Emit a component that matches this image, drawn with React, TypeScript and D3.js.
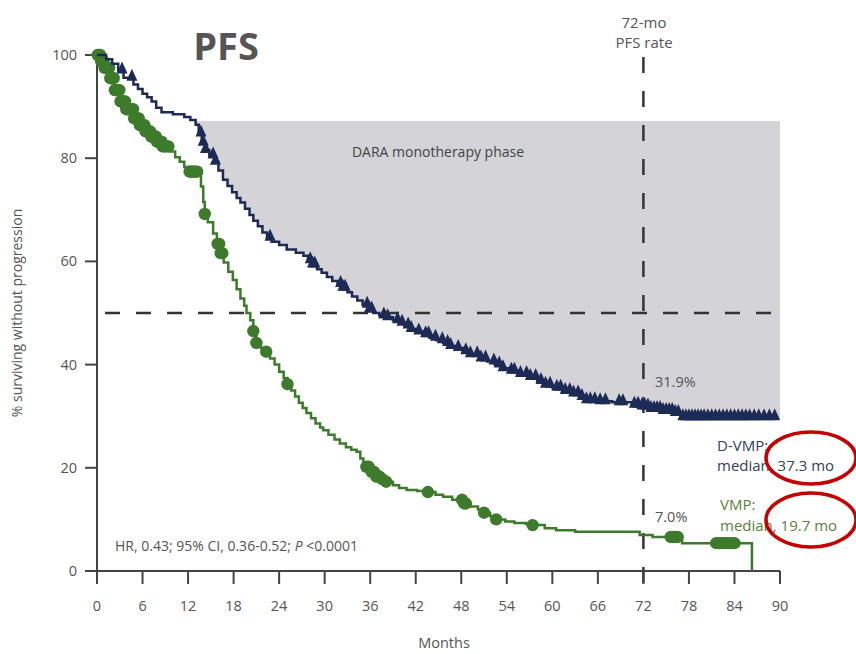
import React from 'react';
import * as d3 from 'd3';

const WIDTH = 856;
const HEIGHT = 654;

// Kaplan-Meier step points [month, % surviving]
const dvmpSteps: [number, number][] = [
  [0, 100], [1.2, 99.2], [2, 98.3], [2.8, 97], [3.5, 95.6], [4.8, 94.3], [5.4, 93.4], [6, 92.5],
  [6.6, 91.8], [7.2, 91], [7.8, 89.8], [8.5, 88.9], [10, 88.5], [11.5, 88], [12.3, 87.4], [13, 86.5],
  [13.4, 84.8], [13.8, 83], [14.3, 81.6], [14.8, 80.5], [15.5, 79.3], [16, 77.6], [16.6, 75.8],
  [17.2, 74.6], [17.8, 73.4], [18.4, 72.3], [18.9, 71.4], [19.5, 70.2], [20.1, 69], [20.6, 67.9],
  [21.2, 66.8], [21.8, 65.6], [22.4, 64.6], [23, 63.8], [24, 63.2], [25, 62.3], [26.2, 61.7],
  [27.2, 61.1], [27.8, 60.2], [28.4, 59.4], [29, 58.5], [29.6, 57.8], [30.3, 57], [31, 56.2],
  [31.7, 55.6], [32.4, 54.9], [33, 54], [33.6, 53.2], [34.3, 52.4], [35, 51.6], [35.7, 50.7],
  [36.4, 50], [37.2, 49.5], [38.1, 49.2], [39, 48.6], [39.8, 48.1], [40.5, 47.6], [41.4, 46.9],
  [42.2, 46.4], [42.9, 45.9], [43.8, 45.2], [44.7, 44.7], [45.6, 44.2], [46.5, 43.6], [47.3, 43.2],
  [48.2, 42.6], [49.2, 42], [50.4, 41.2], [51.4, 40.6], [52.4, 40], [53.5, 39.3], [54.6, 38.8],
  [55.8, 38.2], [57, 37.6], [58, 36.8], [59, 36.1], [60, 35.5], [61.3, 34.9], [62.7, 34.4],
  [63.6, 33.7], [64.4, 33.1], [66, 32.9], [67.9, 32.7], [70.5, 32.2], [71.8, 31.9], [73, 31.4],
  [74.5, 31], [76, 30.6], [77, 29.8], [89.6, 29.6],
];

const vmpSteps: [number, number][] = [
  [0, 100], [0.5, 98.8], [1, 97.5], [1.7, 95.5], [2.3, 93.2], [3, 91], [3.8, 89.5], [4.8, 87.7],
  [5.6, 86.4], [6.4, 85.2], [7.1, 84.2], [7.8, 83.2], [8.6, 82.3], [9.6, 81.3], [10.3, 80.2],
  [10.9, 79.3], [11.5, 78.3], [12.2, 77.4], [13.3, 76.8], [13.7, 74.5], [14, 71.5], [14.2, 69.2],
  [14.6, 67.6], [15.3, 65.4], [15.8, 63.4], [16.2, 61.6], [16.7, 59.8], [17.3, 58], [17.9, 56.4],
  [18.4, 54.6], [18.9, 52.8], [19.4, 51.4], [19.7, 50], [20.2, 48.6], [20.6, 46.5], [21, 44.2],
  [21.6, 43.2], [22.3, 42.5], [22.8, 41.2], [23.4, 40], [24, 38.6], [24.6, 37.4], [25.1, 36.2],
  [25.6, 35], [26.1, 33.8], [26.6, 32.6], [27.1, 31.6], [27.6, 30.6], [28.2, 29.6], [28.8, 28.6],
  [29.4, 27.8], [29.8, 27.3], [30.5, 26.4], [31.3, 25.5], [32, 24.7], [32.8, 24], [33.5, 23.5],
  [34.2, 23.1], [34.7, 21.8], [35.1, 20.8], [35.5, 20.2], [36.2, 19.2], [36.8, 18.3], [37.4, 17.8],
  [38.1, 17.3], [39, 16.6], [39.8, 16.1], [40.8, 15.7], [42.2, 15.5], [43.6, 15.3], [44.6, 14.8],
  [45.6, 14.4], [46.8, 13.8], [48.2, 13.1], [49.2, 12.5], [50.2, 11.9], [51, 11.3], [51.8, 10.6],
  [52.6, 10], [53.8, 9.6], [55, 9.3], [56.5, 9.1], [57.4, 8.9], [59, 8.3], [60.5, 7.9], [63, 7.6],
  [71.5, 7.0], [73.2, 6.6], [77.1, 5.4], [86.3, 0],
];

// censor marks (months)
const dvmpCensor = [
  3.3, 4.6, 13.7, 14, 14.3, 15.3, 15.6, 22.8, 28.1, 28.4, 28.7, 32.1, 32.4, 32.7, 35.6, 35.9, 36.2,
  37.8, 38.3, 39.6, 40.2, 41, 41.4, 42.4, 43.3, 43.7, 44.6, 45.5, 46.2, 46.6, 47.6, 48.6, 49.2,
  50.1, 50.6, 51.2, 52.3, 53, 53.5, 54.6, 55, 55.8, 56.6, 57.1, 57.8, 58.5, 59.1, 59.7, 60.6,
  61.1, 61.7, 62.3, 62.8, 63.4, 63.9, 64.5, 65, 65.6, 66.3, 67, 68.8, 69.3, 70.8, 71.3, 71.8, 72.2,
  72.6, 73, 73.4, 73.8, 74.2, 74.6, 75, 75.4, 75.8, 76.2, 76.6, 77.2, 77.6, 78, 78.4, 78.8, 79.2,
  79.6, 80, 80.5, 81, 81.5, 82, 82.5, 83, 83.5, 84, 84.5, 85, 85.5, 86, 86.6, 87.2, 87.9, 88.6, 89.3,
];
const vmpCensor = [
  0.1, 0.25, 0.4, 0.55, 0.7, 0.85, 1, 1.15, 1.3, 1.45, 1.6, 1.75, 1.9, 2.05, 2.2, 2.35, 2.5, 2.65,
  2.8, 2.95, 3.1, 3.25, 3.4, 3.55, 3.7, 3.85, 4, 4.15, 4.3, 4.45, 4.6, 4.75, 4.9, 5.05, 5.2, 5.35,
  5.5, 5.65, 5.8, 5.95, 6.1, 6.25, 6.4, 6.55, 6.7, 6.85, 7, 7.15, 7.3, 7.45, 7.6, 7.75, 7.9, 8.05,
  8.2, 8.35, 8.5, 8.65, 8.8, 9, 9.2, 9.4, 12.2, 12.4, 12.6, 12.8, 13, 13.2, 14.2, 15.9, 16.1, 16.3,
  16.5, 20.6, 21.0, 22.3, 25.1, 35.5, 35.8, 36.2, 36.5, 36.8, 37.2, 37.6, 38.1, 43.6, 48.1, 48.4,
  48.6, 51, 52.6, 57.4, 75.6, 75.9, 76.2, 76.5, 81.6, 82, 82.4, 82.8, 83.2, 83.6, 84,
];

const xTicks = [0, 6, 12, 18, 24, 30, 36, 42, 48, 54, 60, 66, 72, 78, 84, 90];
const yTicks = [0, 20, 40, 60, 80, 100];
const DARA_START = 13.1;
const DARA_TOP = 87.2;
const MEDIAN_LINE = 50;
const RATE_MONTH = 72;

const x = d3.scaleLinear().domain([0, 90]).range([97, 780]);
const y = d3.scaleLinear().domain([0, 100]).range([571, 55]);

const valueAt = (steps: [number, number][], m: number) => {
  let v = steps[0][1];
  for (const [t, s] of steps) if (t <= m) v = s;
  return v;
};

const line = d3
  .line<[number, number]>()
  .x((d) => x(d[0]))
  .y((d) => y(d[1]))
  .curve(d3.curveStepAfter);

const TEXT = '#555';
const NAVY = '#1c2a55';
const GREEN = '#3e7a2b';
const FONT = '"Open Sans", "Noto Sans", sans-serif';

export default function App() {
  const shade: [number, number][] = [
    [DARA_START, valueAt(dvmpSteps, DARA_START)],
    ...dvmpSteps.filter((d) => d[0] > DARA_START),
    [90, dvmpSteps[dvmpSteps.length - 1][1]],
  ];
  const area = d3
    .area<[number, number]>()
    .x((d) => x(d[0]))
    .y0(y(DARA_TOP))
    .y1((d) => y(d[1]))
    .curve(d3.curveStepAfter);

  return (
    <div style={{ position: 'fixed', left: 0, top: 0 }}>
      <svg width={WIDTH} height={HEIGHT} viewBox={`0 0 ${WIDTH} ${HEIGHT}`} style={{ display: 'block', background: '#fff' }} fontFamily={FONT}>
        <path d={area(shade) ?? ''} fill="#d3d3d8" />
        <text x={438} y={157} textAnchor="middle" fontSize={14} fill="#444">DARA monotherapy phase</text>

        {/* dashed reference lines */}
        <line x1={x(0)} x2={x(90)} y1={y(MEDIAN_LINE)} y2={y(MEDIAN_LINE)} stroke="#333" strokeWidth={2.5} strokeDasharray="15,16" strokeDashoffset={-8} />
        <line x1={x(RATE_MONTH)} x2={x(RATE_MONTH)} y1={57} y2={584} stroke="#333" strokeWidth={2.5} strokeDasharray="16,18" />

        {/* axes */}
        <line x1={x(0)} x2={x(0)} y1={y(100)} y2={y(0)} stroke="#444" strokeWidth={2} />
        <line x1={x(0)} x2={x(90)} y1={y(0)} y2={y(0)} stroke="#444" strokeWidth={2} />
        {yTicks.map((t) => (
          <g key={'y' + t}>
            <line x1={x(0) - 12} x2={x(0)} y1={y(t)} y2={y(t)} stroke="#444" strokeWidth={2} />
            <text x={x(0) - 20} y={y(t) + 5} textAnchor="end" fontSize={14.5} fill={TEXT}>{t}</text>
          </g>
        ))}
        {xTicks.map((t) => (
          <g key={'x' + t}>
            <line x1={x(t)} x2={x(t)} y1={y(0)} y2={y(0) + 13} stroke="#444" strokeWidth={2} />
            <text x={x(t)} y={611} textAnchor="middle" fontSize={14.5} fill={TEXT}>{t}</text>
          </g>
        ))}
        <text x={444} y={648} textAnchor="middle" fontSize={14.5} fill={TEXT}>Months</text>
        <text transform={`translate(22, ${y(50)}) rotate(-90)`} textAnchor="middle" fontSize={14} fill={TEXT}>% surviving without progression</text>

        {/* curves */}
        <path d={line(vmpSteps) ?? ''} fill="none" stroke={GREEN} strokeWidth={2.5} />
        {vmpCensor.map((m, i) => (
          <circle key={'c' + i} cx={x(m)} cy={y(valueAt(vmpSteps, m))} r={6.2} fill={GREEN} />
        ))}
        <path d={line(dvmpSteps) ?? ''} fill="none" stroke={NAVY} strokeWidth={2.5} />
        {dvmpCensor.map((m, i) => {
          const cx = x(m);
          const cy = y(valueAt(dvmpSteps, m));
          return <path key={'t' + i} d={`M${cx - 5.5},${cy + 3}L${cx + 5.5},${cy + 3}L${cx},${cy - 9}Z`} fill={NAVY} />;
        })}

        {/* annotations */}
        <text x={226} y={60} textAnchor="middle" fontSize={38} fontWeight="bold" fill="#555">PFS</text>
        <text x={644} y={28} textAnchor="middle" fontSize={15} fill={TEXT}>72-mo</text>
        <text x={644} y={48} textAnchor="middle" fontSize={15} fill={TEXT}>PFS rate</text>
        <text x={655} y={387} fontSize={14.5} fill={TEXT}>31.9%</text>
        <text x={655} y={522} fontSize={14.5} fill={TEXT}>7.0%</text>
        <text x={717} y={451} fontSize={15} fill="#33415a">D-VMP:</text>
        <text x={717} y={471} fontSize={15} fill="#33415a">median, 37.3 mo</text>
        <text x={720} y={510} fontSize={15} fill="#5b7f3e">VMP:</text>
        <text x={720} y={531} fontSize={15} fill="#5b7f3e">median, 19.7 mo</text>
        <text x={115} y={551} fontSize={14} fill={TEXT}>
          HR, 0.43; 95% CI, 0.36-0.52; <tspan fontStyle="italic">P</tspan> {'<0.0001'}
        </text>
        <ellipse cx={811} cy={458} rx={45} ry={26} fill="none" stroke="#c40000" strokeWidth={3.5} />
        <ellipse cx={811} cy={520} rx={45} ry={27} fill="none" stroke="#c40000" strokeWidth={3.5} />
      </svg>
    </div>
  );
}
